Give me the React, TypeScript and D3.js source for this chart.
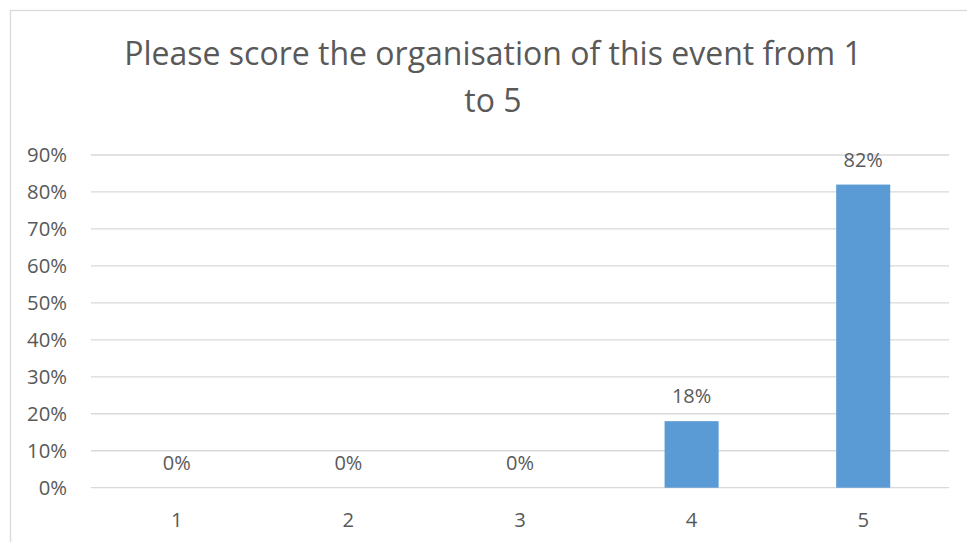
import React from "react";
import * as d3 from "d3";

const categories = ["1", "2", "3", "4", "5"];
const values = [0, 0, 0, 0.18, 0.82];
const yTicks = [0, 0.1, 0.2, 0.3, 0.4, 0.5, 0.6, 0.7, 0.8, 0.9];
const titleLines = ["Please score the organisation of this event from 1", "to 5"];

const W = 967;
const H = 542;
const FONT = "'Open Sans', sans-serif";
const TEXT = "#595959";
const GRID = "#d9d9d9";
const BAR = "#5b9bd5";

export default function App() {
  const x = d3.scaleBand<string>().domain(categories).range([91, 949]).paddingInner(0.685).paddingOuter(0.3425);
  const y = d3.scaleLinear().domain([0, 0.9]).range([487.7, 155]);
  const fmt = d3.format(".0%");
  return (
    <svg width={W} height={H} style={{ position: "absolute", left: 0, top: 0, background: "#fff" }} fontFamily={FONT}>
      <rect x={10.5} y={10.5} width={1000} height={600} fill="#fff" stroke={GRID} strokeWidth={1.3} />
      <g>
        {titleLines.map((t, i) => (
          <text key={i} x={493} y={65 + i * 46.5} textAnchor="middle" fontSize={32} fill={TEXT}>
            {t}
          </text>
        ))}
      </g>
      <g>
        {yTicks.map((t) => (
          <g key={t}>
            <line x1={91} x2={949} y1={y(t)} y2={y(t)} stroke={GRID} strokeWidth={1.3} />
            <text x={67} y={y(t) + 7.3} textAnchor="end" fontSize={20.3} fill={TEXT}>
              {fmt(t)}
            </text>
          </g>
        ))}
      </g>
      <g>
        {categories.map((c, i) => (
          <g key={c}>
            {values[i] > 0 && (
              <rect x={x(c)} y={y(values[i])} width={x.bandwidth()} height={y(0) - y(values[i])} fill={BAR} />
            )}
            <text x={(x(c) as number) + x.bandwidth() / 2} y={y(values[i]) - 17.7} textAnchor="middle" fontSize={20} fill={TEXT}>
              {fmt(values[i])}
            </text>
            <text x={(x(c) as number) + x.bandwidth() / 2} y={526.7} textAnchor="middle" fontSize={20.3} fill={TEXT}>
              {c}
            </text>
          </g>
        ))}
      </g>
    </svg>
  );
}
